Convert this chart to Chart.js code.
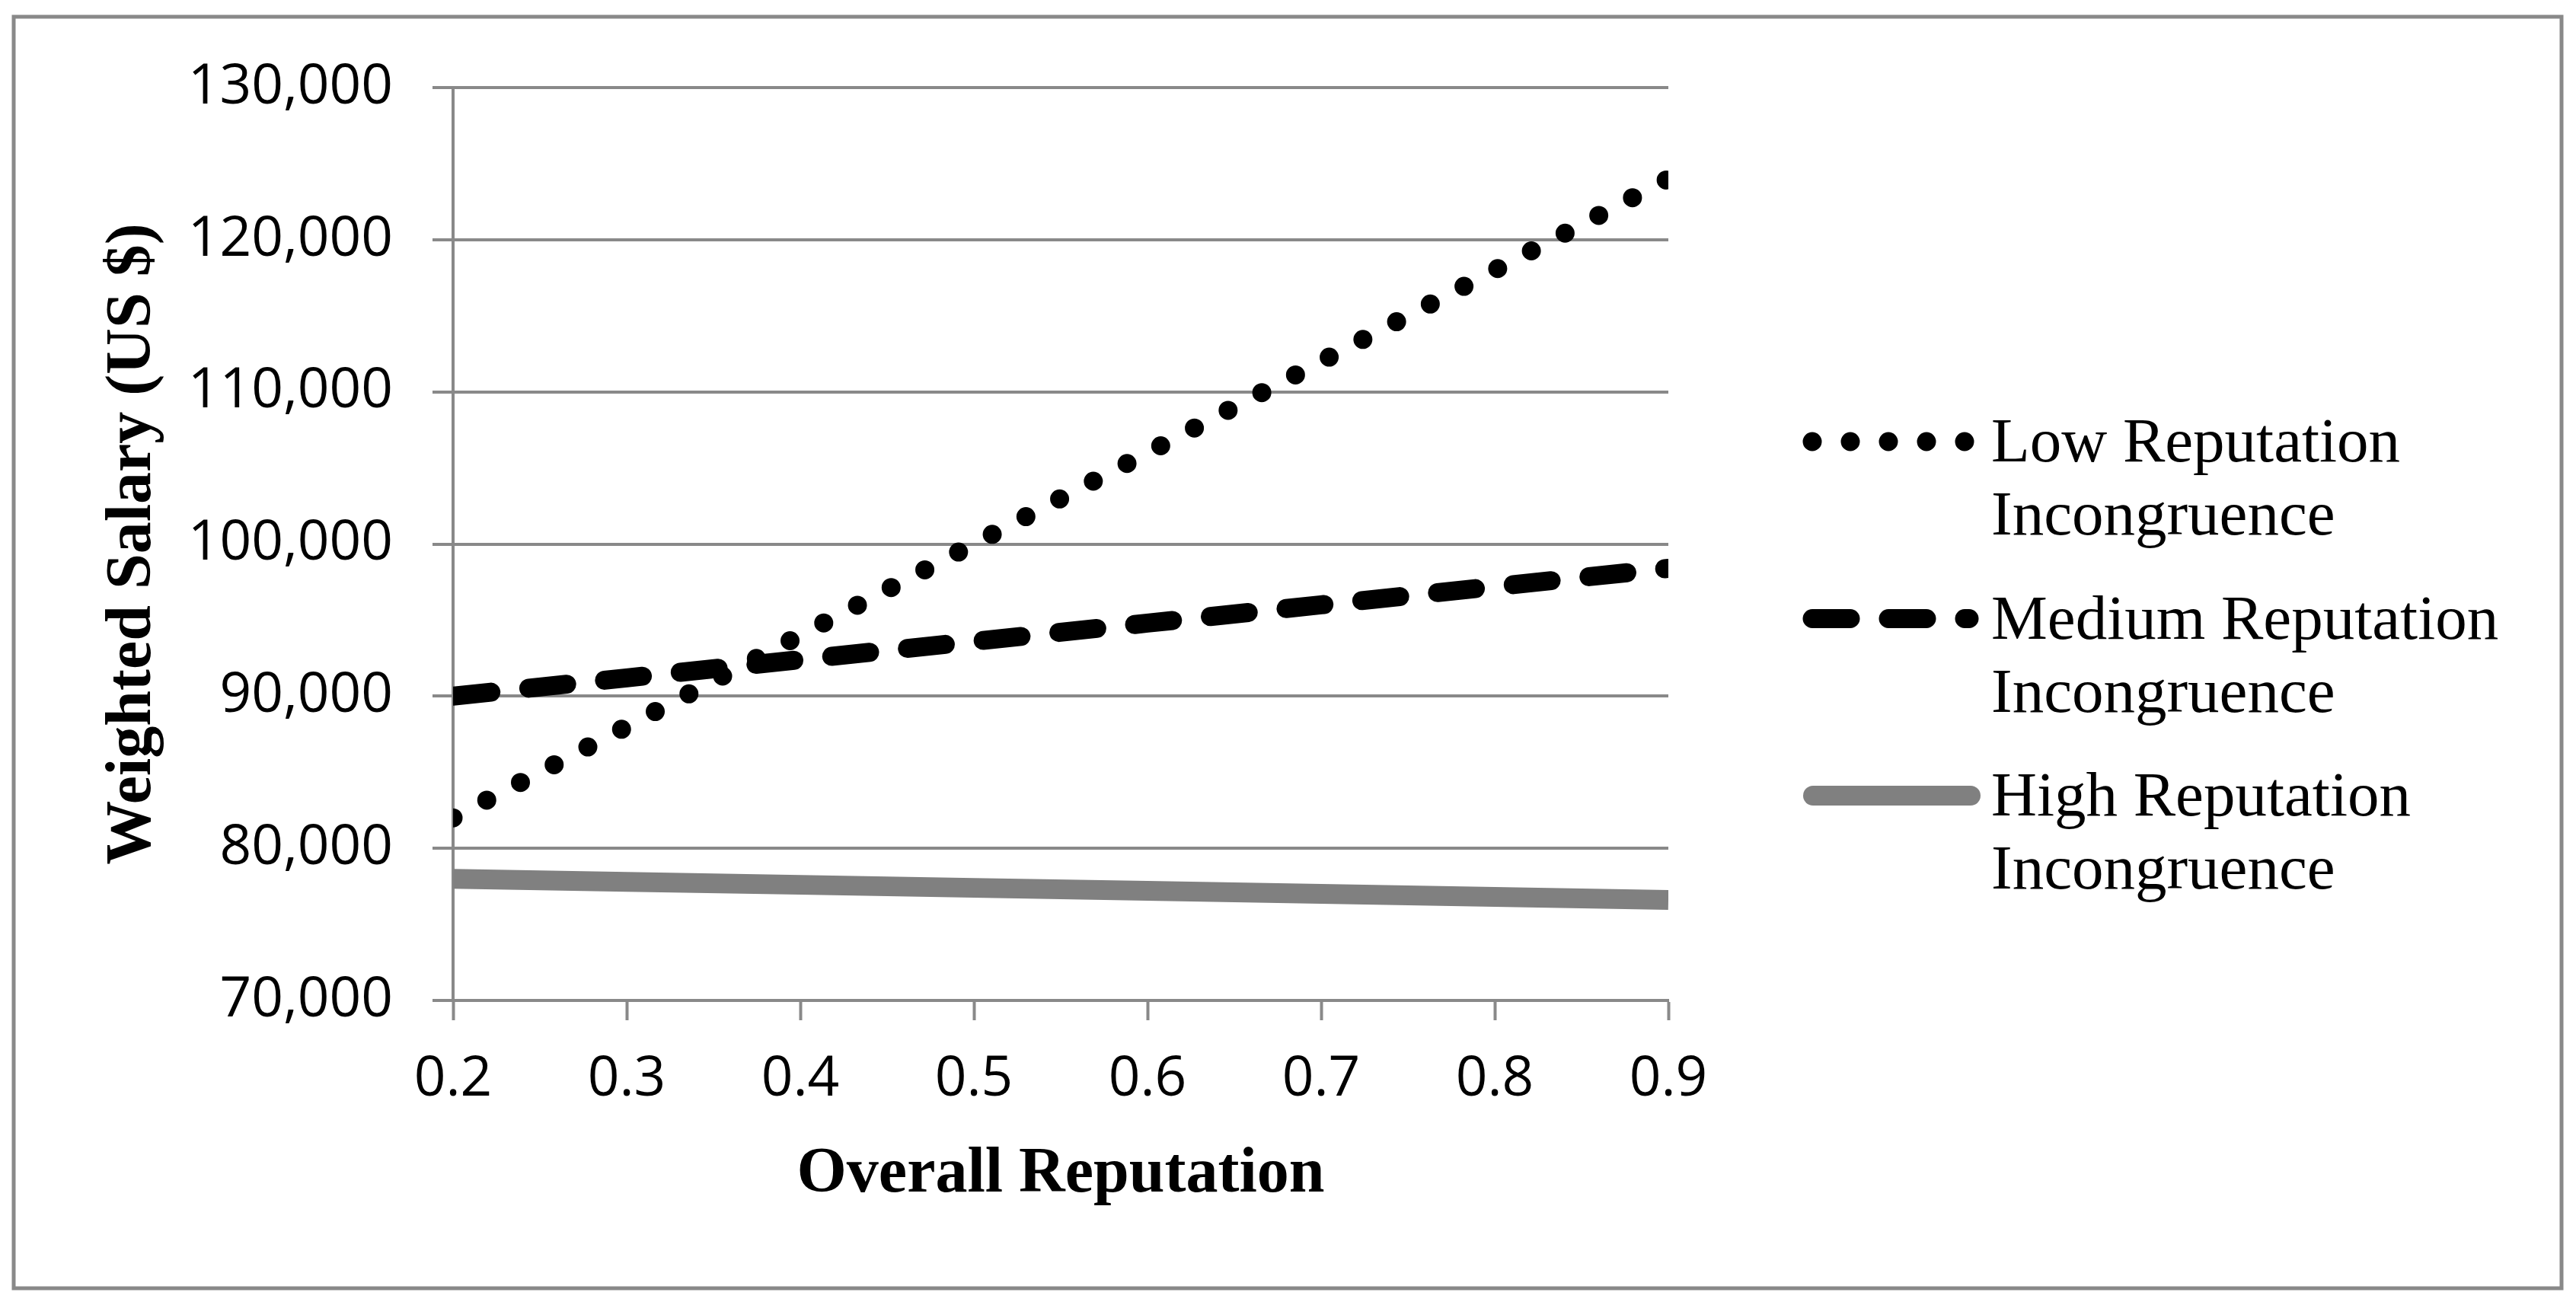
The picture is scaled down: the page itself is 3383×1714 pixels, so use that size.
<!DOCTYPE html>
<html>
<head>
<meta charset="utf-8">
<script src="https://cdn.jsdelivr.net/npm/chart.js@4.4.0/dist/chart.umd.min.js"></script>
<style>
  html, body { margin: 0; padding: 0; background: #fff; }
  #wrap { width: 3383px; height: 1714px; }
</style>
</head>
<body>
<div id="wrap"><canvas id="salaryChart" width="3383" height="1714"></canvas></div>
<script>
// values
const reputation = ["0.2", "0.3", "0.4", "0.5", "0.6", "0.7", "0.8", "0.9"];
const lowIncongruence = [82000, 88000, 94000, 100000, 106000, 112000, 118000, 124000];
const mediumIncongruence = [90000, 91200, 92400, 93600, 94800, 96000, 97200, 98400];
const highIncongruence = [78000, 77800, 77600, 77400, 77200, 77000, 76800, 76600];
const seriesNames = ["Low Reputation Incongruence", "Medium Reputation Incongruence", "High Reputation Incongruence"];

const GRID = "#898989";
const tickFont = { family: "'Open Sans', 'Liberation Sans', sans-serif", size: 73 };
const titleFont = { family: "'Liberation Serif', 'Times New Roman', serif", size: 84, weight: "bold" };

// outer frame + white background
const frame = {
  id: "frame",
  beforeDraw(chart) {
    const ctx = chart.ctx;
    ctx.save();
    ctx.fillStyle = "#fff";
    ctx.fillRect(0, 0, chart.width, chart.height);
    ctx.strokeStyle = GRID;
    ctx.lineWidth = 5;
    ctx.strokeRect(18, 22, 3346, 1670);
    ctx.restore();
  }
};

// legend on the right, two lines per entry
const sideLegend = {
  id: "sideLegend",
  afterDraw(chart) {
    const ctx = chart.ctx;
    ctx.save();
    chart.data.datasets.forEach((ds, i) => {
      const cy = 580 + i * 232.5;
      ctx.beginPath();
      ctx.strokeStyle = ds.borderColor;
      ctx.lineWidth = ds.borderWidth;
      ctx.setLineDash(ds.borderDash || []);
      ctx.lineCap = "round";
      if (i === 0) { ctx.moveTo(2380, cy); ctx.lineTo(2600, cy); }
      else if (i === 1) { ctx.moveTo(2380, cy); ctx.lineTo(2586, cy); }
      else { ctx.moveTo(2381, cy); ctx.lineTo(2588, cy); }
      ctx.stroke();
      ctx.setLineDash([]);

      const words = ds.label.split(" ");
      const lines = [words.slice(0, -1).join(" "), words[words.length - 1]];
      ctx.fillStyle = "#000";
      ctx.font = "83px 'Liberation Serif', 'Times New Roman', serif";
      ctx.textAlign = "left";
      ctx.textBaseline = "alphabetic";
      lines.forEach((t, k) => ctx.fillText(t, 2615, cy + 26 + k * 96));
    });
    ctx.restore();
  }
};

new Chart(document.getElementById("salaryChart"), {
  type: "line",
  data: {
    labels: reputation,
    datasets: [
      {
        label: seriesNames[0],
        data: lowIncongruence,
        borderColor: "#000",
        borderWidth: 25,
        borderDash: [0, 50],
        borderCapStyle: "round",
        pointRadius: 0,
        clip: 0
      },
      {
        label: seriesNames[1],
        data: mediumIncongruence,
        borderColor: "#000",
        borderWidth: 25,
        borderDash: [50, 50],
        borderCapStyle: "round",
        pointRadius: 0,
        clip: 0
      },
      {
        label: seriesNames[2],
        data: highIncongruence,
        borderColor: "#808080",
        borderWidth: 26,
        borderCapStyle: "butt",
        pointRadius: 0,
        clip: 0
      }
    ]
  },
  options: {
    responsive: false,
    animation: false,
    devicePixelRatio: 1,
    layout: { padding: { left: 0, top: 115, right: 1192, bottom: 0 } },
    plugins: {
      legend: { display: false },
      tooltip: { enabled: false }
    },
    scales: {
      x: {
        offset: false,
        afterFit: s => { s.height = 400; },
        grid: { drawOnChartArea: false, drawTicks: true, tickLength: 26, tickWidth: 4, tickColor: GRID },
        border: { display: true, color: GRID, width: 4 },
        ticks: { color: "#000", font: tickFont, padding: 34, maxRotation: 0, autoSkip: false },
        title: { display: true, text: "Overall Reputation", color: "#000", font: titleFont, padding: { top: 0, bottom: 120 } }
      },
      y: {
        min: 70000,
        max: 130000,
        afterFit: s => { s.width = 595; },
        grid: { color: GRID, lineWidth: 4, drawTicks: true, tickLength: 27, tickWidth: 4, tickColor: GRID },
        border: { display: true, color: GRID, width: 4 },
        ticks: {
          stepSize: 10000,
          color: "#000",
          font: tickFont,
          padding: 52,
          callback: v => v.toLocaleString("en-US")
        },
        title: { display: true, text: "Weighted Salary (US $)", color: "#000", font: titleFont, padding: { top: 125, bottom: 0 } }
      }
    }
  },
  plugins: [frame, sideLegend]
});
</script>
</body>
</html>
